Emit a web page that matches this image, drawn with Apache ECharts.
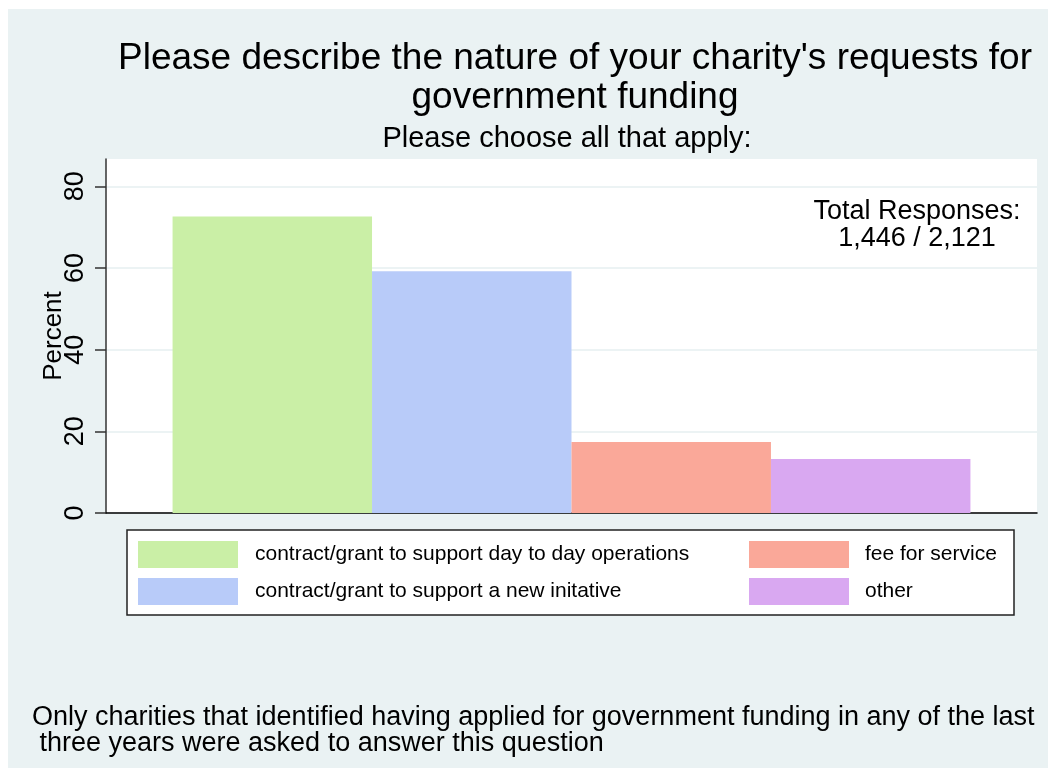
<!DOCTYPE html>
<html>
<head>
<meta charset="utf-8">
<script src="https://cdn.jsdelivr.net/npm/echarts@6/dist/echarts.min.js"></script>
<style>
  html, body { margin: 0; padding: 0; background: #ffffff; }
  #chart { position: absolute; left: 8px; top: 9px; width: 1040px; height: 759px; }
</style>
</head>
<body>
<div id="chart"></div>
<script>
const seriesNames = [
  'contract/grant to support day to day operations',
  'contract/grant to support a new initative',
  'fee for service',
  'other'
];
const seriesValues = [72.6, 59.2, 17.4, 13.2];
const seriesColors = ['#CAEFA6', '#B8CBF9', '#FAA899', '#D9A8F1'];
const yTicks = [0, 20, 40, 60, 80];
const titleText = "Please describe the nature of your charity's requests for\ngovernment funding";
const subtitleText = 'Please choose all that apply:';
const totalText = 'Total Responses:\n1,446 / 2,121';
const noteText = 'Only charities that identified having applied for government funding in any of the last\n three years were asked to answer this question';

const FONT = '"Liberation Sans", Arial, Helvetica, sans-serif';
const chart = echarts.init(document.getElementById('chart'));

const series = seriesNames.map((name, i) => ({
  name: name,
  type: 'bar',
  data: [seriesValues[i]],
  itemStyle: { color: seriesColors[i] },
  barGap: '0%',
  barCategoryGap: '14.3%',
  silent: true
}));

chart.setOption({
  backgroundColor: '#EAF2F3',
  animation: false,
  textStyle: { fontFamily: FONT },
  title: [
    {
      text: titleText, left: 567, top: 30, textAlign: 'center', padding: 0,
      textStyle: { fontSize: 37, fontWeight: 'normal', color: '#000', lineHeight: 39, fontFamily: FONT }
    },
    {
      text: subtitleText, left: 559, top: 115, textAlign: 'center', padding: 0,
      textStyle: { fontSize: 29, fontWeight: 'normal', color: '#000', lineHeight: 29, fontFamily: FONT }
    },
    {
      text: totalText, left: 909, top: 189, textAlign: 'center', padding: 0,
      textStyle: { fontSize: 27, fontWeight: 'normal', color: '#000', lineHeight: 27, fontFamily: FONT, align: 'center' }
    },
    {
      text: noteText, left: 24, top: 696, padding: 0,
      textStyle: { fontSize: 27, fontWeight: 'normal', color: '#000', lineHeight: 26, fontFamily: FONT }
    }
  ],
  grid: {
    left: 98, right: 11, top: 150, bottom: 255,
    show: true, backgroundColor: '#ffffff', borderWidth: 0
  },
  xAxis: {
    type: 'category',
    data: [''],
    axisLine: { show: true, lineStyle: { color: '#000', width: 1.5 } },
    axisTick: { show: false },
    axisLabel: { show: false },
    splitLine: { show: false }
  },
  yAxis: {
    type: 'value',
    min: 0, max: 86.7, interval: 20,
    name: 'Percent',
    nameLocation: 'middle',
    nameGap: 39,
    nameMoveOverlap: false,
    nameRotate: 90,
    nameTextStyle: { fontSize: 26, color: '#000', fontFamily: FONT },
    axisLine: { show: true, lineStyle: { color: '#333', width: 1.5 } },
    axisTick: { show: true, length: 11, lineStyle: { color: '#333', width: 1.5 }, customValues: yTicks },
    axisLabel: { show: true, rotate: 90, margin: 17, fontSize: 27, color: '#000', fontFamily: FONT, customValues: yTicks },
    splitLine: { show: true, lineStyle: { color: '#E6EFF1', width: 1.5 } }
  },
  legend: [
    {
      data: seriesNames.slice(0, 2),
      orient: 'vertical', left: 130, top: 532, padding: 0,
      itemWidth: 100, itemHeight: 27, itemGap: 10, icon: 'rect',
      selectedMode: false,
      textStyle: { fontSize: 21, color: '#000', fontFamily: FONT, padding: [0, 0, 0, 12] }
    },
    {
      data: seriesNames.slice(2, 4),
      orient: 'vertical', left: 741, top: 532, padding: 0,
      itemWidth: 100, itemHeight: 27, itemGap: 10, icon: 'rect',
      selectedMode: false,
      textStyle: { fontSize: 21, color: '#000', fontFamily: FONT, padding: [0, 0, 0, 11] }
    }
  ],
  graphic: [
    {
      type: 'rect', z: 1, silent: true,
      shape: { x: 119, y: 521, width: 887, height: 85 },
      style: { fill: '#ffffff', stroke: '#222', lineWidth: 1.5 }
    }
  ],
  series: series
});
</script>
</body>
</html>
